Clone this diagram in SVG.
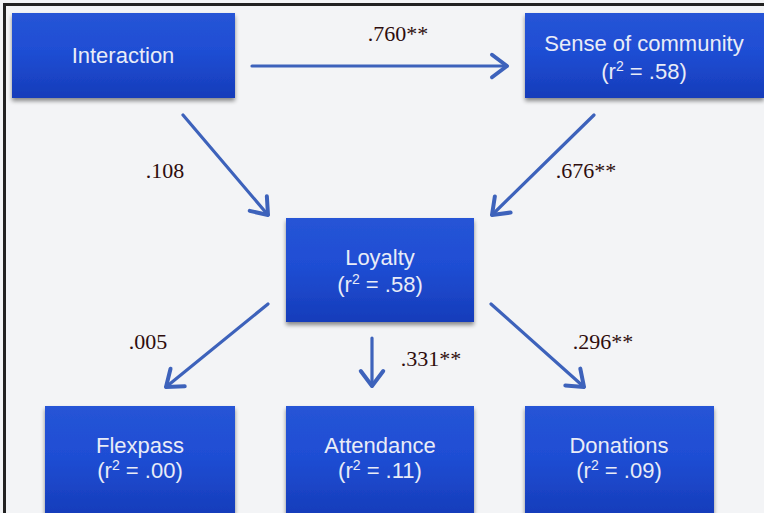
<svg xmlns="http://www.w3.org/2000/svg" width="764" height="513" viewBox="0 0 764 513">
  <defs>
    <linearGradient id="boxg" x1="0" y1="0" x2="0" y2="1">
      <stop offset="0" stop-color="#2654d6"/>
      <stop offset="0.45" stop-color="#1f4ed4"/>
      <stop offset="1" stop-color="#163cba"/>
    </linearGradient>
    <filter id="shadow" x="-10%" y="-10%" width="120%" height="130%">
      <feGaussianBlur in="SourceAlpha" stdDeviation="2"/>
      <feOffset dx="0" dy="3" result="b"/>
      <feComponentTransfer><feFuncA type="linear" slope="0.45"/></feComponentTransfer>
      <feMerge><feMergeNode/><feMergeNode in="SourceGraphic"/></feMerge>
    </filter>
    <marker id="chev" markerUnits="userSpaceOnUse" markerWidth="30" markerHeight="30" viewBox="-16 -12 20 24" refX="0" refY="0" orient="auto">
      <path d="M-12,-9 L0,0 L-12,9" fill="none" stroke="#3d62bb" stroke-width="3.2" stroke-linecap="round" stroke-linejoin="round"/>
    </marker>
    <style>
      .box { fill: url(#boxg); filter: url(#shadow); }
      .nt { font-family: "Liberation Sans", Arial, sans-serif; font-size: 22px; fill: #e9ecf7; text-anchor: middle; }
      .sup { font-size: 14px; }
      .lbl { font-family: "Liberation Serif", "Times New Roman", serif; font-size: 22px; fill: #2e0d0d; text-anchor: middle; }
      .conn { stroke: #3d62bb; stroke-width: 3.2; fill: none; stroke-linecap: round; marker-end: url(#chev); }
    </style>
  </defs>
  <rect x="0" y="0" width="764" height="513" fill="#f3f4f6"/>
  <path d="M4.5,513 V4.5 H764" fill="none" stroke="#222" stroke-width="3"/>

  <g id="connectors">
    <line class="conn" x1="252" y1="66" x2="507" y2="66"/>
    <line class="conn" x1="183" y1="115" x2="268" y2="215"/>
    <line class="conn" x1="594" y1="115" x2="492" y2="215"/>
    <line class="conn" x1="268" y1="304" x2="166" y2="387"/>
    <line class="conn" x1="372" y1="338" x2="372" y2="386"/>
    <line class="conn" x1="491" y1="304" x2="584" y2="387"/>
    <text class="lbl" x="398" y="41">.760**</text>
    <text class="lbl" x="165" y="178">.108</text>
    <text class="lbl" x="586" y="178">.676**</text>
    <text class="lbl" x="148" y="349">.005</text>
    <text class="lbl" x="431" y="366">.331**</text>
    <text class="lbl" x="603" y="349">.296**</text>
  </g>

  <g id="interaction">
    <rect class="box" x="12" y="13" width="223" height="85"/>
    <text class="nt" x="123" y="63">Interaction</text>
  </g>
  <g id="sense-of-community">
    <rect class="box" x="525" y="13" width="239" height="85"/>
    <text class="nt" x="644" y="51">Sense of community</text>
    <text class="nt" x="644" y="79">(r<tspan class="sup" dy="-8">2</tspan><tspan dy="8"> = .58)</tspan></text>
  </g>
  <g id="loyalty">
    <rect class="box" x="286" y="218" width="188" height="104"/>
    <text class="nt" x="380" y="265">Loyalty</text>
    <text class="nt" x="380" y="292">(r<tspan class="sup" dy="-8">2</tspan><tspan dy="8"> = .58)</tspan></text>
  </g>
  <g id="flexpass">
    <rect class="box" x="45" y="406" width="190" height="110"/>
    <text class="nt" x="140" y="453">Flexpass</text>
    <text class="nt" x="140" y="478">(r<tspan class="sup" dy="-8">2</tspan><tspan dy="8"> = .00)</tspan></text>
  </g>
  <g id="attendance">
    <rect class="box" x="286" y="406" width="188" height="110"/>
    <text class="nt" x="380" y="453">Attendance</text>
    <text class="nt" x="380" y="478">(r<tspan class="sup" dy="-8">2</tspan><tspan dy="8"> = .11)</tspan></text>
  </g>
  <g id="donations">
    <rect class="box" x="525" y="406" width="189" height="110"/>
    <text class="nt" x="619" y="453">Donations</text>
    <text class="nt" x="619" y="478">(r<tspan class="sup" dy="-8">2</tspan><tspan dy="8"> = .09)</tspan></text>
  </g>
</svg>
